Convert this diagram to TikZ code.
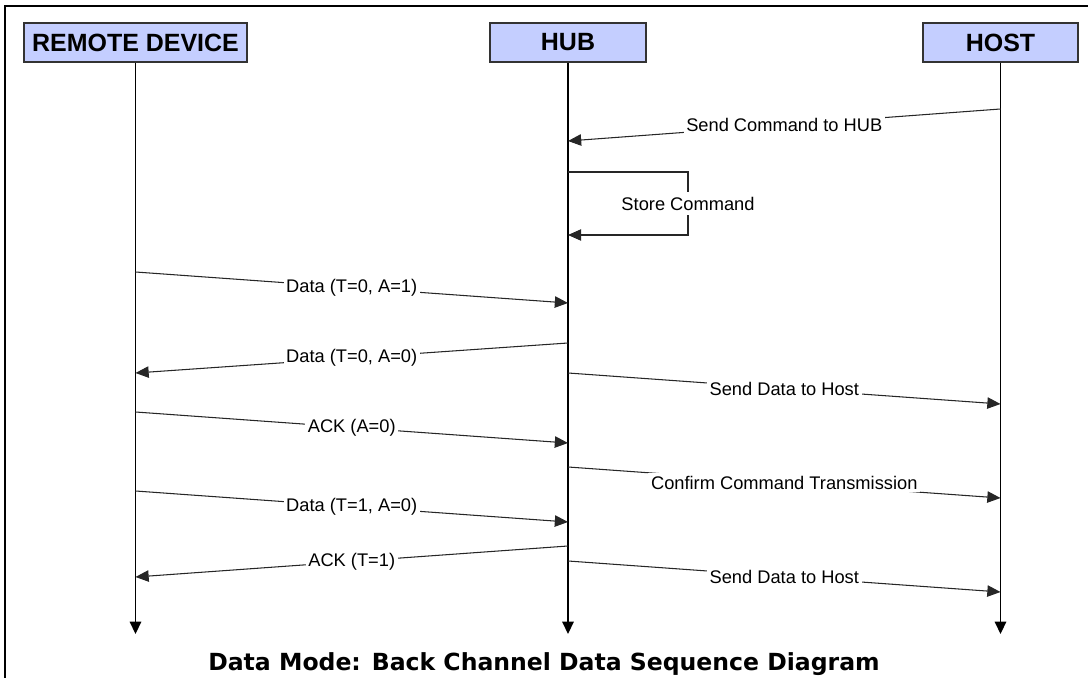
\documentclass[tikz,border=0pt]{standalone}
\usepackage{fontspec}
\setmainfont{Liberation Sans}
\newfontfamily\capfont{DejaVu Sans}
\usetikzlibrary{arrows.meta,positioning}
\definecolor{boxblue}{HTML}{C4CEFF}
\definecolor{msggrey}{HTML}{262626}
\tikzset{
  actor/.style={draw=black!80,fill=boxblue,line width=0.7pt,minimum height=0.78cm,inner sep=0pt,font=\fontsize{14.2}{16}\selectfont\bfseries},
  life/.style={line width=0.9pt,-{Triangle[length=7pt,width=6.5pt]}},
  msg/.style={msggrey,line width=0.6pt,-{Triangle[length=7.5pt,width=6.5pt]}},
  lbl/.style={fill=white,inner sep=1.5pt,text=black,font=\fontsize{10.4}{12}\selectfont}
}
\begin{document}
\begin{tikzpicture}[x=0.02cm,y=-0.02cm]
\useasboundingbox (0,0) rectangle (1088,678);
\def\xr{135.5}
\def\xh{568}
\def\xo{1000.5}
% frame (top and left only)
\draw[line width=1.1pt] (1088,6) -- (5,6) -- (5,678);
% actors and lifelines
\node[actor,minimum width=4.46cm] (remote) at (\xr,42.5) {REMOTE DEVICE};
\node[actor,minimum width=3.12cm] (hub) at (\xh,42.5) {HUB};
\node[actor,minimum width=3.10cm] (host) at (\xo,42.5) {HOST};
\coordinate (remote end) at (\xr,634);
\coordinate (hub end) at (\xh,634);
\coordinate (host end) at (\xo,634);
\draw[life] (remote) -- (remote end);
\draw[life] (hub) -- (hub end);
\draw[life] (host) -- (host end);
% store command loop on the hub
\coordinate (store a) at (\xh,172);
\coordinate (store b) at (\xh,235);
\coordinate (store turn) at (688,203);
\draw[msg] (store a) -- (store a -| store turn) -- node[lbl,inner sep=2.5pt] (store) {Store Command} (store b -| store turn) -- (store b);
% messages
\foreach \i/\xa/\ya/\xb/\yb/\txt in {
  1/\xo/109/\xh/141/{Send Command to HUB},
  2/\xr/272/\xh/303/{Data (T=0, A=1)},
  3/\xh/343/\xr/373/{Data (T=0, A=0)},
  4/\xh/373/\xo/404/{Send Data to Host},
  5/\xr/412/\xh/443/{ACK (A=0)},
  6/\xh/467/\xo/498/{Confirm Command Transmission},
  7/\xr/491/\xh/522/{Data (T=1, A=0)},
  8/\xh/546/\xr/577/{ACK (T=1)},
  9/\xh/561/\xo/592/{Send Data to Host}}{
  \coordinate (m\i a) at (\xa,\ya);
  \coordinate (m\i b) at (\xb,\yb);
  \draw[msg] (m\i a) -- node[lbl] (t\i) {\txt} (m\i b);
}
% caption
\node[anchor=base,font=\capfont\fontsize{13.4}{15}\selectfont\bfseries] (caption) at (544,670) {Data Mode: Back Channel Data Sequence Diagram};
\end{tikzpicture}
\end{document}
